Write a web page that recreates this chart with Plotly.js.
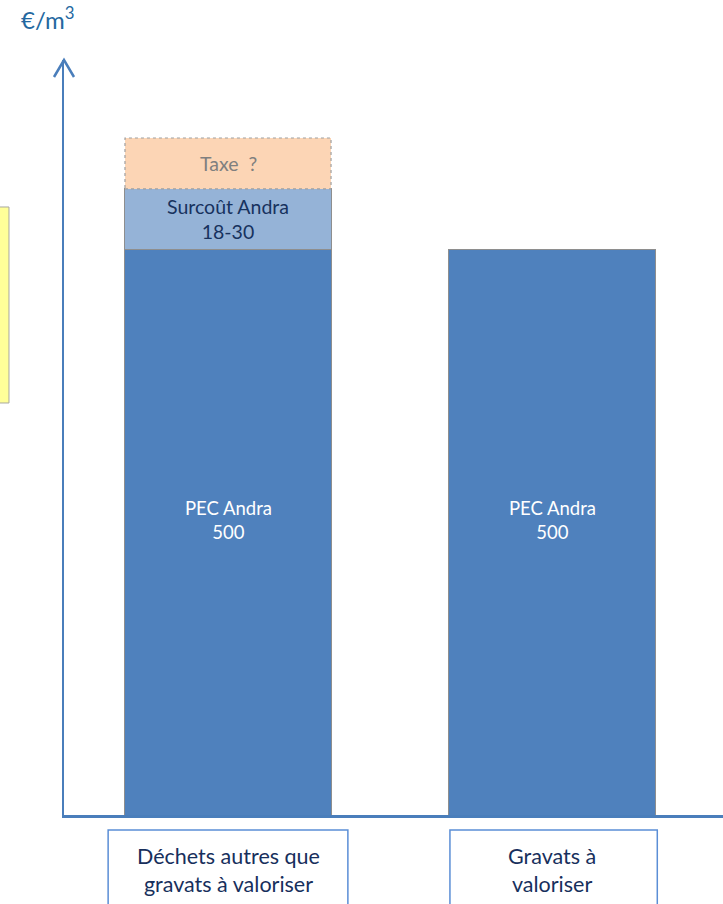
<!DOCTYPE html>
<html>
<head>
<meta charset="utf-8">
<script src="https://cdn.plot.ly/plotly-3.0.1.min.js"></script>
<style>html,body{margin:0;padding:0;background:#fff;}#chart{width:723px;height:904px;}</style>
</head>
<body>
<div id="chart"></div>
<script>
// Data
var categories = ["Déchets autres que<br>gravats à valoriser", "Gravats à<br>valoriser"];
var pecValues = [500, 500];
var pecLabels = ["PEC Andra<br>500", "PEC Andra<br>500"];
var surcoutValues = [54, null];
var surcoutLabels = ["Surcoût Andra<br>18-30", null];
var taxeValues = [45, null];
var taxeLabels = ["Taxe  ?", null];
var yUnit = "€/m<sup>3</sup>";

var idx = categories.map(function(_, i){ return i; });
var barW = 0.636;
var font = "Lato, 'Open Sans', sans-serif";
var axisBlue = "#4A7EBB";

function present(vals){ return idx.filter(function(i){ return vals[i] != null; }); }
var sIdx = present(surcoutValues), tIdx = present(taxeValues);

var traces = [
  {type:'bar', x:idx, y:pecValues, width:barW, textposition:'none',
   marker:{color:'#4F81BD', line:{color:'#8E8E8E', width:1}}, hoverinfo:'skip'},
  {type:'bar', x:sIdx, y:sIdx.map(function(i){return surcoutValues[i];}), width:barW, textposition:'none',
   marker:{color:'#95B3D7', line:{color:'#8E8E8E', width:1}}, hoverinfo:'skip'},
  {type:'bar', x:tIdx, y:tIdx.map(function(i){return taxeValues[i];}), width:barW, textposition:'none',
   marker:{color:'#FCD5B5', line:{width:0}}, hoverinfo:'skip'}
];

var shapes = [];
// dotted outline of the tax segment
tIdx.forEach(function(i){
  var base = pecValues[i] + (surcoutValues[i] || 0);
  shapes.push({type:'rect', xref:'x', yref:'y', x0:i - barW/2, x1:i + barW/2, y0:base, y1:base + taxeValues[i],
    line:{color:'#A0A0A0', width:1.2, dash:'dot'}, fillcolor:'rgba(0,0,0,0)', layer:'above'});
});
// arrow head on y axis
shapes.push({type:'path', xref:'paper', yref:'paper', xsizemode:'pixel', ysizemode:'pixel',
  xanchor:0, yanchor:1, path:'M-10,-17 L0,0 L10,-17', line:{color:axisBlue, width:2.5}});
// yellow side box
shapes.push({type:'rect', xref:'paper', yref:'paper', x0:-0.11, x1:-0.0835, y0:0.5457, y1:0.8053,
  fillcolor:'#FFFF99', line:{color:'#A8A8A0', width:1}});
// category boxes
var boxHalf = [0.37, 0.32];
idx.forEach(function(i){
  var off = (i === 1 ? 0.005 : 0);
  shapes.push({type:'rect', xref:'x', yref:'paper', x0:i - boxHalf[i] + off, x1:i + boxHalf[i] + off,
    y0:-0.0199, y1:-0.14, line:{color:'#5B8ED6', width:1.5}, fillcolor:'rgba(0,0,0,0)'});
});

var annotations = categories.map(function(c, i){
  return {xref:'x', yref:'paper', x:i, y:-0.0735, text:c, showarrow:false, xanchor:'center', yanchor:'middle',
    font:{family:font, size:21.5, color:'#172F5C'}};
});
// segment labels
idx.forEach(function(i){
  annotations.push({xref:'x', yref:'y', x:i, y:pecValues[i]/2, yshift:12, text:pecLabels[i], showarrow:false,
    xanchor:'center', yanchor:'middle', font:{family:font, size:18.5, color:'#FFFFFF'}});
});
sIdx.forEach(function(i){
  annotations.push({xref:'x', yref:'y', x:i, y:pecValues[i] + surcoutValues[i]/2, text:surcoutLabels[i], showarrow:false,
    xanchor:'center', yanchor:'middle', font:{family:font, size:19.5, color:'#17325E'}});
});
tIdx.forEach(function(i){
  annotations.push({xref:'x', yref:'y', x:i, y:pecValues[i] + (surcoutValues[i] || 0) + taxeValues[i]/2, text:taxeLabels[i], showarrow:false,
    xanchor:'center', yanchor:'middle', font:{family:font, size:19.5, color:'#7F7F7F'}});
});
annotations.push({xref:'paper', yref:'paper', x:-0.025, y:1.055, text:yUnit, showarrow:false,
  xanchor:'center', yanchor:'middle', font:{family:font, size:24, color:'#2468A0'}});

var layout = {
  width:723, height:904,
  margin:{l:64, r:0, t:60, b:89, pad:0},
  paper_bgcolor:'#FFFFFF', plot_bgcolor:'#FFFFFF',
  barmode:'stack', showlegend:false,
  xaxis:{range:[-0.5062, 1.5278], showgrid:false, zeroline:false, showticklabels:false, ticks:'',
    showline:true, linecolor:axisBlue, linewidth:2.5, fixedrange:true},
  yaxis:{range:[0, 668], showgrid:false, zeroline:false, showticklabels:false, ticks:'',
    showline:true, linecolor:axisBlue, linewidth:2.5, fixedrange:true},
  shapes:shapes,
  annotations:annotations
};

Plotly.newPlot('chart', traces, layout, {staticPlot:true, displayModeBar:false});
</script>
</body>
</html>
